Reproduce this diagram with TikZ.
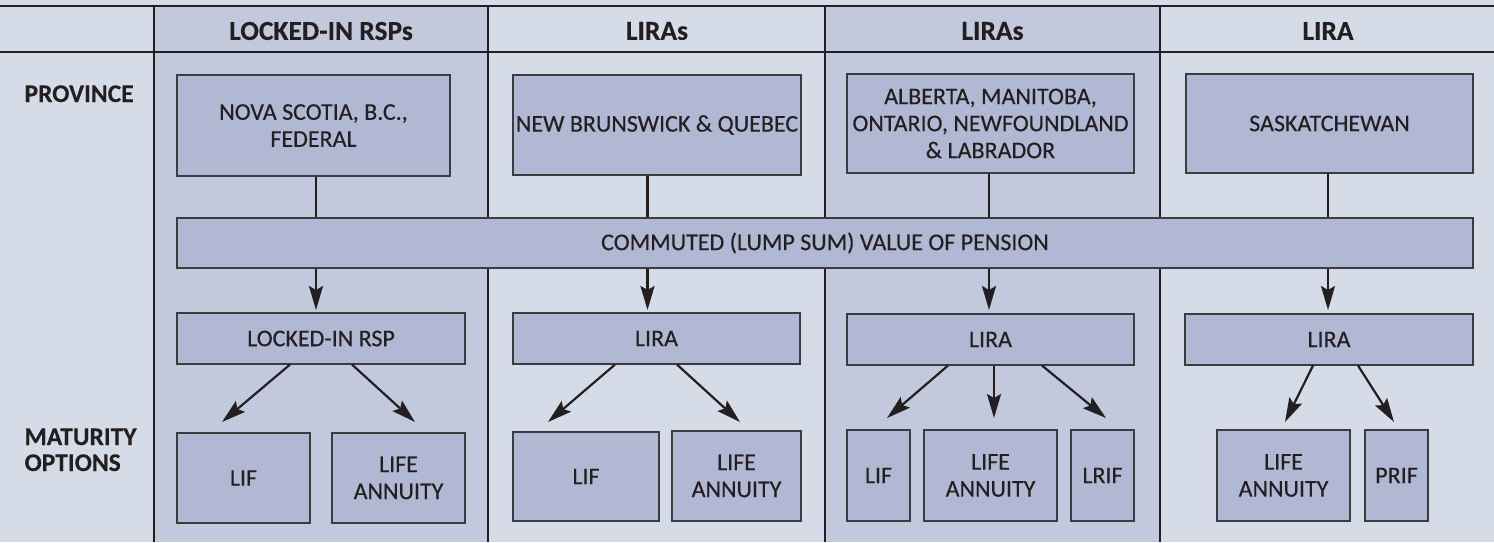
\documentclass[tikz,border=0pt]{standalone}
\usepackage{fontspec}
\setmainfont{Carlito}
\newfontfamily\bodyfont[FakeBold=0.3]{Carlito}
\newfontfamily\headfont[FakeBold=0.2]{Carlito Bold}
\usetikzlibrary{arrows.meta}
\definecolor{bgl}{RGB}{213,220,232}
\definecolor{bgd}{RGB}{195,201,221}
\definecolor{boxc}{RGB}{177,184,211}
\definecolor{ink}{RGB}{35,31,32}
\definecolor{boxline}{RGB}{60,60,64}
\begin{document}
\begin{tikzpicture}[x=1pt,y=-1pt,
  every node/.style={text=ink},
  grid/.style={draw=ink,line width=1.4pt},
  box/.style={draw=boxline,fill=boxc,line width=1.1pt,inner sep=0pt,align=center,
    font=\bodyfont\fontsize{24}{27}\selectfont},
  head/.style={font=\headfont\fontsize{27.5}{27}\selectfont},
  rowlab/.style={font=\headfont\fontsize{25.5}{26}\selectfont,anchor=base west,align=left},
  link/.style={draw=ink,line width=2.2pt},
  arr/.style={draw=ink,line width=2.2pt,-{Stealth[length=24pt,width=14pt,inset=4pt]}}]
\useasboundingbox (0,0) rectangle (1494,542);
% backgrounds
\fill[bgl] (0,0) rectangle (1494,542);
\fill[bgd] (154,6) rectangle (488,542);
\fill[bgd] (825,6) rectangle (1160,542);
% grid lines
\draw[grid] (0,6) -- (1494,6);
\draw[grid] (0,52) -- (1494,52);
\foreach \xx in {154,488,825,1160} \draw[grid] (\xx,6) -- (\xx,542);
% headers
\node[head] (h1) at (321,31) {LOCKED-IN RSPs};
\node[head] (h2) at (657,31) {LIRAs};
\node[head] (h3) at (992.5,31) {LIRAs};
\node[head] (h4) at (1328,31) {LIRA};
\node[rowlab] (rp) at (21,102) {PROVINCE};
\node[rowlab] (rm) at (21,471) {MATURITY\\OPTIONS};
% province boxes
\node[box,minimum width=273pt,minimum height=101pt] (p1) at (313.5,125.5) {NOVA SCOTIA, B.C.,\\FEDERAL};
\node[box,minimum width=288pt,minimum height=100pt] (p2) at (657,125) {NEW BRUNSWICK \& QUEBEC};
\node[box,minimum width=287pt,minimum height=99pt] (p3) at (990.5,123.5) {ALBERTA, MANITOBA,\\ONTARIO, NEWFOUNDLAND\\\& LABRADOR};
\node[box,minimum width=287pt,minimum height=99pt] (p4) at (1329.5,123.5) {SASKATCHEWAN};
% bar
\node[box,minimum width=1296pt,minimum height=50pt] (bar) at (825,243) {COMMUTED (LUMP SUM) VALUE OF PENSION};
% LIRA boxes
\node[box,minimum width=288pt,minimum height=51pt] (l1) at (321,338.5) {LOCKED-IN RSP};
\node[box,minimum width=287pt,minimum height=51pt] (l2) at (656.5,338.5) {LIRA};
\node[box,minimum width=287pt,minimum height=51pt] (l3) at (990.5,339.5) {LIRA};
\node[box,minimum width=288pt,minimum height=51pt] (l4) at (1329,339.5) {LIRA};
% maturity boxes
\node[box,minimum width=133pt,minimum height=90pt] (m1a) at (243.5,478) {LIF};
\node[box,minimum width=133pt,minimum height=90pt] (m1b) at (398.5,478) {LIFE\\ANNUITY};
\node[box,minimum width=146pt,minimum height=89pt] (m2a) at (586,476.5) {LIF};
\node[box,minimum width=129pt,minimum height=90pt] (m2b) at (736.5,476) {LIFE\\ANNUITY};
\node[box,minimum width=63pt,minimum height=91pt] (m3a) at (878.5,475.5) {LIF};
\node[box,minimum width=133pt,minimum height=91pt] (m3b) at (990.5,475.5) {LIFE\\ANNUITY};
\node[box,minimum width=63pt,minimum height=91pt] (m3c) at (1102.5,475.5) {LRIF};
\node[box,minimum width=133pt,minimum height=91pt] (m4a) at (1283.5,475.5) {LIFE\\ANNUITY};
\node[box,minimum width=63pt,minimum height=91pt] (m4b) at (1396.5,475.5) {PRIF};
% column x positions for vertical links
\coordinate (x1) at (316,0);
\coordinate (x2) at (647.5,0);
\coordinate (x3) at (989,0);
\coordinate (x4) at (1328,0);
\draw[link] (p1.south -| x1) -- (bar.north -| x1);
\draw[link] (p2.south -| x2) -- (bar.north -| x2);
\draw[link] (p3.south -| x3) -- (bar.north -| x3);
\draw[link] (p4.south -| x4) -- (bar.north -| x4);
\coordinate (e1) at (316,310);
\coordinate (e2) at (647.5,310);
\coordinate (e3) at (989,310);
\coordinate (e4) at (1328,310);
\draw[arr] (bar.south -| x1) -- (e1);
\draw[arr] (bar.south -| x2) -- (e2);
\draw[arr] (bar.south -| x3) -- (e3);
\draw[arr] (bar.south -| x4) -- (e4);
% diagonal arrows
\coordinate (s1a) at (290,0); \coordinate (t1a) at (222,422);
\coordinate (s1b) at (352,0); \coordinate (t1b) at (415,422);
\coordinate (s2a) at (615,0); \coordinate (t2a) at (548,422);
\coordinate (s2b) at (677,0); \coordinate (t2b) at (740,422);
\coordinate (s3a) at (948,0); \coordinate (t3a) at (887,418);
\coordinate (s3b) at (994,0); \coordinate (t3b) at (994,418);
\coordinate (s3c) at (1042,0); \coordinate (t3c) at (1106,418);
\coordinate (s4a) at (1313,0); \coordinate (t4a) at (1285,422);
\coordinate (s4b) at (1358,0); \coordinate (t4b) at (1394,422);
\draw[arr] (l1.south -| s1a) -- (t1a);
\draw[arr] (l1.south -| s1b) -- (t1b);
\draw[arr] (l2.south -| s2a) -- (t2a);
\draw[arr] (l2.south -| s2b) -- (t2b);
\draw[arr] (l3.south -| s3a) -- (t3a);
\draw[arr] (l3.south -| s3b) -- (t3b);
\draw[arr] (l3.south -| s3c) -- (t3c);
\draw[arr] (l4.south -| s4a) -- (t4a);
\draw[arr] (l4.south -| s4b) -- (t4b);
\end{tikzpicture}
\end{document}
